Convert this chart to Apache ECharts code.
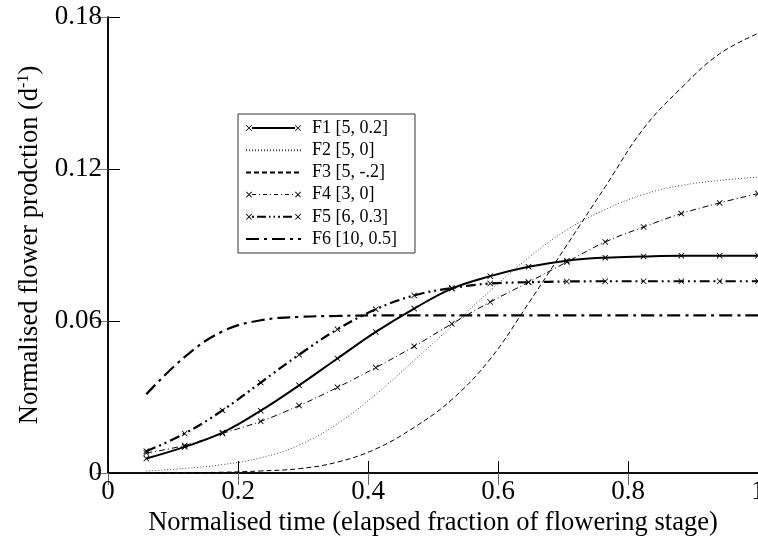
<!DOCTYPE html>
<html>
<head>
<meta charset="utf-8">
<script src="https://cdn.jsdelivr.net/npm/echarts@6/dist/echarts.min.js"></script>
<style>
  html, body { margin: 0; padding: 0; background: #fff; }
  #chart { width: 758px; height: 542px; }
</style>
</head>
<body>
<div id="chart"></div>
<script>
// normalised time at each sampled point
const times = [0.059, 0.118, 0.176, 0.235, 0.294, 0.353, 0.412, 0.471, 0.529,
  0.588, 0.647, 0.706, 0.765, 0.824, 0.882, 0.941, 1.0]

const names = ['F1 [5, 0.2]', 'F2 [5, 0]', 'F3 [5, -.2]', 'F4 [3, 0]', 'F5 [6, 0.3]', 'F6 [10, 0.5]']

const f1 = [0.0057, 0.0103, 0.0159, 0.0246, 0.0346, 0.0452, 0.0557, 0.0649, 0.0728,
  0.0777, 0.0814, 0.0838, 0.0850, 0.0855, 0.0858, 0.0858, 0.0858]
const f2 = [0.0008, 0.0018, 0.0033, 0.0060, 0.0110, 0.0195, 0.0310, 0.0445, 0.0580,
  0.0720, 0.0850, 0.0960, 0.1040, 0.1100, 0.1135, 0.1155, 0.1168]
const f3 = [0.0000, 0.0001, 0.0003, 0.0008, 0.0017, 0.0043, 0.0095, 0.0180, 0.0290,
  0.0450, 0.0670, 0.0900, 0.1130, 0.1360, 0.1520, 0.1655, 0.1735]
const f4 = [0.0079, 0.0109, 0.0156, 0.0204, 0.0266, 0.0338, 0.0416, 0.0500, 0.0589,
  0.0675, 0.0753, 0.0833, 0.0912, 0.0971, 0.1024, 0.1066, 0.1103]
const f5 = [0.0086, 0.0156, 0.0247, 0.0357, 0.0467, 0.0567, 0.0646, 0.0701, 0.0730,
  0.0748, 0.0753, 0.0756, 0.0757, 0.0757, 0.0757, 0.0757, 0.0757]
const f6 = [0.0311, 0.0458, 0.0559, 0.0603, 0.0616, 0.0620, 0.0622, 0.0622, 0.0622,
  0.0622, 0.0622, 0.0622, 0.0622, 0.0622, 0.0622, 0.0622, 0.0622]

const pair = (ys) => ys.map((y, i) => [times[i], y])

const font = 'Liberation Serif, Times New Roman, serif'
// filled "x" marker
const cross = 'path://M0,1L1,0L5,4L9,0L10,1L6,5L10,9L9,10L5,6L1,10L0,9L4,5Z'

// legend sample: x at both ends with dash pieces between (55 x 6 box)
const xAt = (x0) => {
  const p = [[0, 0.6], [0.6, 0], [3, 2.4], [5.4, 0], [6, 0.6], [3.6, 3], [6, 5.4], [5.4, 6], [3, 3.6], [0.6, 6], [0, 5.4], [2.4, 3]]
  return 'M' + p.map(([x, y]) => (x0 + x) + ',' + y).join('L') + 'Z'
}
const legendIcon = (pattern, thick) => {
  let d = xAt(0) + xAt(49)
  const y0 = 3 - thick / 2
  const y1 = 3 + thick / 2
  let x = 6
  let k = 0
  while (x < 49) {
    const len = pattern[k % pattern.length]
    if (k % 2 === 0) {
      const e = Math.min(x + len, 49)
      d += `M${x},${y0}L${e},${y0}L${e},${y1}L${x},${y1}Z`
    }
    x += len
    k++
  }
  return 'path://' + d
}

const chart = echarts.init(document.getElementById('chart'))

const mk = (name, ys, width, dash, color, marked) => ({
  name,
  type: 'line',
  data: pair(ys),
  smooth: 0.4,
  symbol: marked ? cross : 'none',
  showSymbol: marked,
  symbolSize: 6,
  itemStyle: { color: '#000' },
  lineStyle: { color: color, width: width, type: dash },
  emphasis: { disabled: true },
})

const hidden = { color: 'rgba(0,0,0,0)', borderWidth: 0 }
const legendData = [
  { name: names[0], icon: legendIcon([43, 0], 2) },
  { name: names[1], itemStyle: hidden },
  { name: names[2], itemStyle: hidden },
  { name: names[3], icon: legendIcon([4, 3, 1, 3], 1) },
  { name: names[4], icon: legendIcon([2, 3, 9, 3, 1.5, 3, 1.5, 3], 2) },
  { name: names[5], itemStyle: hidden },
]

chart.setOption({
  animation: false,
  textStyle: { fontFamily: font },
  grid: { left: 108, right: 0, top: 17, bottom: 69, outerBoundsMode: 'none' },
  legend: {
    orient: 'vertical',
    left: 238,
    top: 114,
    padding: [5, 18, 5, 7],
    borderColor: '#333',
    borderWidth: 1,
    itemWidth: 55,
    itemHeight: 6,
    itemGap: 4.2,
    symbolKeepAspect: false,
    textStyle: { fontFamily: font, fontSize: 18, lineHeight: 18, color: '#000', padding: [0, 0, 0, 6] },
    data: legendData,
  },
  xAxis: [
    {
      type: 'value',
      min: 0,
      max: 1,
      interval: 0.2,
      name: 'Normalised time (elapsed fraction of flowering stage)',
      nameLocation: 'middle',
      nameGap: 35,
      nameTextStyle: { fontFamily: font, fontSize: 26.5, color: '#000' },
      axisLine: { lineStyle: { color: '#000', width: 1.5 } },
      axisTick: { inside: true, length: 12, lineStyle: { color: '#000' } },
      axisLabel: { fontFamily: font, fontSize: 27, color: '#000', margin: 5 },
      splitLine: { show: false },
    },
    {
      type: 'value',
      position: 'top',
      min: 0,
      max: 1,
      interval: 0.2,
      axisLine: { show: true, lineStyle: { color: '#000', width: 1.5 } },
      axisTick: { show: true, inside: true, length: 12, lineStyle: { color: '#666' } },
      axisLabel: { show: false },
      splitLine: { show: false },
    },
  ],
  yAxis: [
    {
      type: 'value',
      min: 0,
      max: 0.18,
      interval: 0.06,
      name: 'Normalised flower prodction (d{sup|-1})',
      nameLocation: 'middle',
      nameGap: 60,
      nameTextStyle: {
        fontFamily: font,
        fontSize: 26.5,
        color: '#000',
        rich: { sup: { fontFamily: font, fontSize: 16, color: '#000', padding: [0, 0, 13, 0] } },
      },
      axisLine: { show: true, lineStyle: { color: '#000', width: 1.5 } },
      axisTick: { show: true, inside: true, length: 12, lineStyle: { color: '#000' } },
      axisLabel: { fontFamily: font, fontSize: 27, color: '#000', margin: 6 },
      splitLine: { show: false },
    },
    {
      type: 'value',
      position: 'right',
      min: 0,
      max: 0.18,
      interval: 0.06,
      axisLine: { show: true, lineStyle: { color: '#000', width: 1.5 } },
      axisTick: { show: true, inside: true, length: 12, lineStyle: { color: '#777' } },
      axisLabel: { show: false },
      splitLine: { show: false },
    },
  ],
  series: [
    mk(names[0], f1, 2, 'solid', '#000', true),
    mk(names[1], f2, 1, [1, 2], '#444', false),
    mk(names[2], f3, 1, [5, 3], '#000', false),
    mk(names[3], f4, 1, [6, 3, 1, 3], '#000', true),
    mk(names[4], f5, 2.2, [10, 4, 2, 4, 2, 4], '#000', true),
    mk(names[5], f6, 2.2, [13, 5, 3, 5], '#000', false),
  ],
})
</script>
</body>
</html>
